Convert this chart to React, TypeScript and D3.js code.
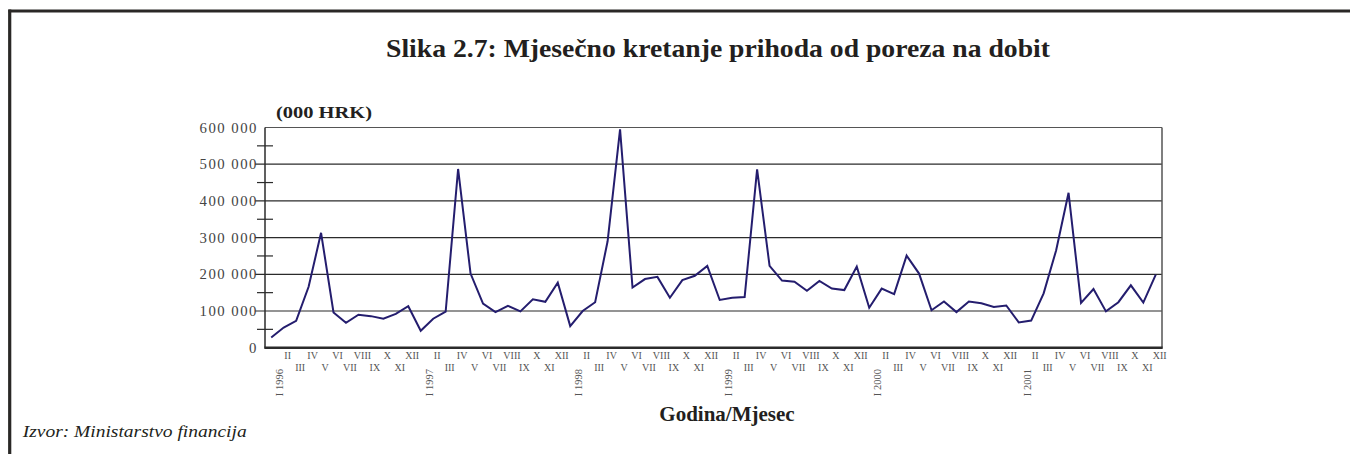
import React from "react";
import * as d3 from "d3";

const values: number[] = [
  28000, 55000, 73000, 166000, 313000, 96000, 68000, 90000, 86000, 79000, 92000, 113000,
  46000, 79000, 98000, 487000, 202000, 120000, 97000, 114000, 99000, 132000, 125000, 177000,
  59000, 100000, 124000, 290000, 595000, 164000, 187000, 193000, 136000, 184000, 196000, 223000,
  130000, 136000, 138000, 486000, 223000, 183000, 180000, 155000, 182000, 161000, 157000, 221000,
  109000, 161000, 146000, 251000, 202000, 102000, 126000, 97000, 126000, 121000, 111000, 115000,
  69000, 74000, 148000, 265000, 422000, 122000, 160000, 99000, 124000, 170000, 123000, 199000,
];
const months: string[] = ["I", "II", "III", "IV", "V", "VI", "VII", "VIII", "IX", "X", "XI", "XII"];
const years: number[] = [1996, 1997, 1998, 1999, 2000, 2001];
const yTicks: number[] = [0, 100000, 200000, 300000, 400000, 500000, 600000];
const yMinor: number[] = [50000, 150000, 250000, 350000, 450000, 550000];

const title = "Slika 2.7: Mjesečno kretanje prihoda od poreza na dobit";
const unitLabel = "(000 HRK)";
const xTitle = "Godina/Mjesec";
const source = "Izvor: Ministarstvo financija";

const FONT = "'Liberation Serif', 'Times New Roman', serif";

export default function App() {
  const left = 265, right = 1162, top = 127.5, bottom = 347.7;
  const idx = values.map((_, i) => i);
  const x = d3.scaleBand<number>().domain(idx).range([left, right]);
  const cx = (i: number) => (x(i) as number) + x.bandwidth() / 2;
  const y = d3.scaleLinear().domain([0, 600000]).range([bottom, top]);
  const line = d3.line<number>().x((_, i) => cx(i)).y((d) => y(d));
  const fmt = (v: number) => (v === 0 ? "0" : d3.format(",")(v).replace(/,/g, " "));

  const labels: React.ReactNode[] = [];
  idx.forEach((i) => {
    const m = i % 12;
    const yr = years[Math.floor(i / 12)];
    const px = cx(i);
    if (m === 0) {
      labels.push(
        <text key={"l" + i} transform={`translate(${px + 8.6},369) rotate(-90)`} textAnchor="end"
          dominantBaseline="central" fontSize={10.5} fill="#555" fontFamily={FONT}>
          {`${months[m]} ${yr}`}
        </text>
      );
    } else {
      const upper = m % 2 === 1;
      labels.push(
        <text key={"l" + i} x={px + 4} y={upper ? 355 : 367.5} textAnchor="middle"
          dominantBaseline="central" fontSize={10} fill="#555" fontFamily={FONT}>
          {months[m]}
        </text>
      );
    }
  });

  return (
    <svg width={1350} height={454} style={{ position: "absolute", left: 0, top: 0, background: "#fff" }}
      fontFamily={FONT}>
      <rect x={0} y={0} width={1350} height={454} fill="#fff" />
      {/* frame */}
      <line x1={8.5} x2={1350} y1={11} y2={11} stroke="#2a2826" strokeWidth={3} />
      <line x1={9.7} x2={9.7} y1={9.5} y2={454} stroke="#2a2826" strokeWidth={3.2} />

      <text x={718} y={56.5} textAnchor="middle" fontSize={26} fontWeight="bold" fill="#231f20"
        textLength={664} lengthAdjust="spacingAndGlyphs">{title}</text>
      <text x={276} y={118.3} fontSize={17} fontWeight="bold" fill="#231f20"
        textLength={96} lengthAdjust="spacingAndGlyphs">{unitLabel}</text>

      {/* gridlines */}
      {yTicks.filter((t) => t > 0 && t < 600000).map((t) => (
        <line key={"g" + t} x1={255} x2={right} y1={y(t)} y2={y(t)} stroke="#2b2b2b" strokeWidth={1.2} />
      ))}
      <line x1={left} x2={right} y1={top} y2={top} stroke="#555" strokeWidth={1.2} />
      <line x1={right} x2={right} y1={top} y2={bottom} stroke="#555" strokeWidth={1.5} />
      {yMinor.map((t) => (
        <line key={"m" + t} x1={257} x2={273} y1={y(t)} y2={y(t)} stroke="#2b2b2b" strokeWidth={1.2} />
      ))}
      <line x1={left} x2={left} y1={top} y2={bottom} stroke="#2b2b2b" strokeWidth={1.5} />
      <line x1={left - 0.7} x2={right + 0.7} y1={bottom} y2={bottom} stroke="#2b2b2b" strokeWidth={2.4} />

      {yTicks.map((t) => (
        <text key={"t" + t} x={256.5} y={y(t)} textAnchor="end" dominantBaseline="central"
          fontSize={14.8} fill="#444" {...(t > 0 ? { textLength: 57, lengthAdjust: "spacing" } : {})}>
          {fmt(t)}
        </text>
      ))}

      <path d={line(values) || ""} fill="none" stroke="#241d6e" strokeWidth={2} strokeLinejoin="miter" />

      {labels}

      <text x={727} y={420.7} textAnchor="middle" fontSize={21} fontWeight="bold" fill="#231f20">{xTitle}</text>
      <text x={22.7} y={436.7} fontSize={16} fontStyle="italic" fill="#231f20"
        textLength={224} lengthAdjust="spacingAndGlyphs">{source}</text>
    </svg>
  );
}
